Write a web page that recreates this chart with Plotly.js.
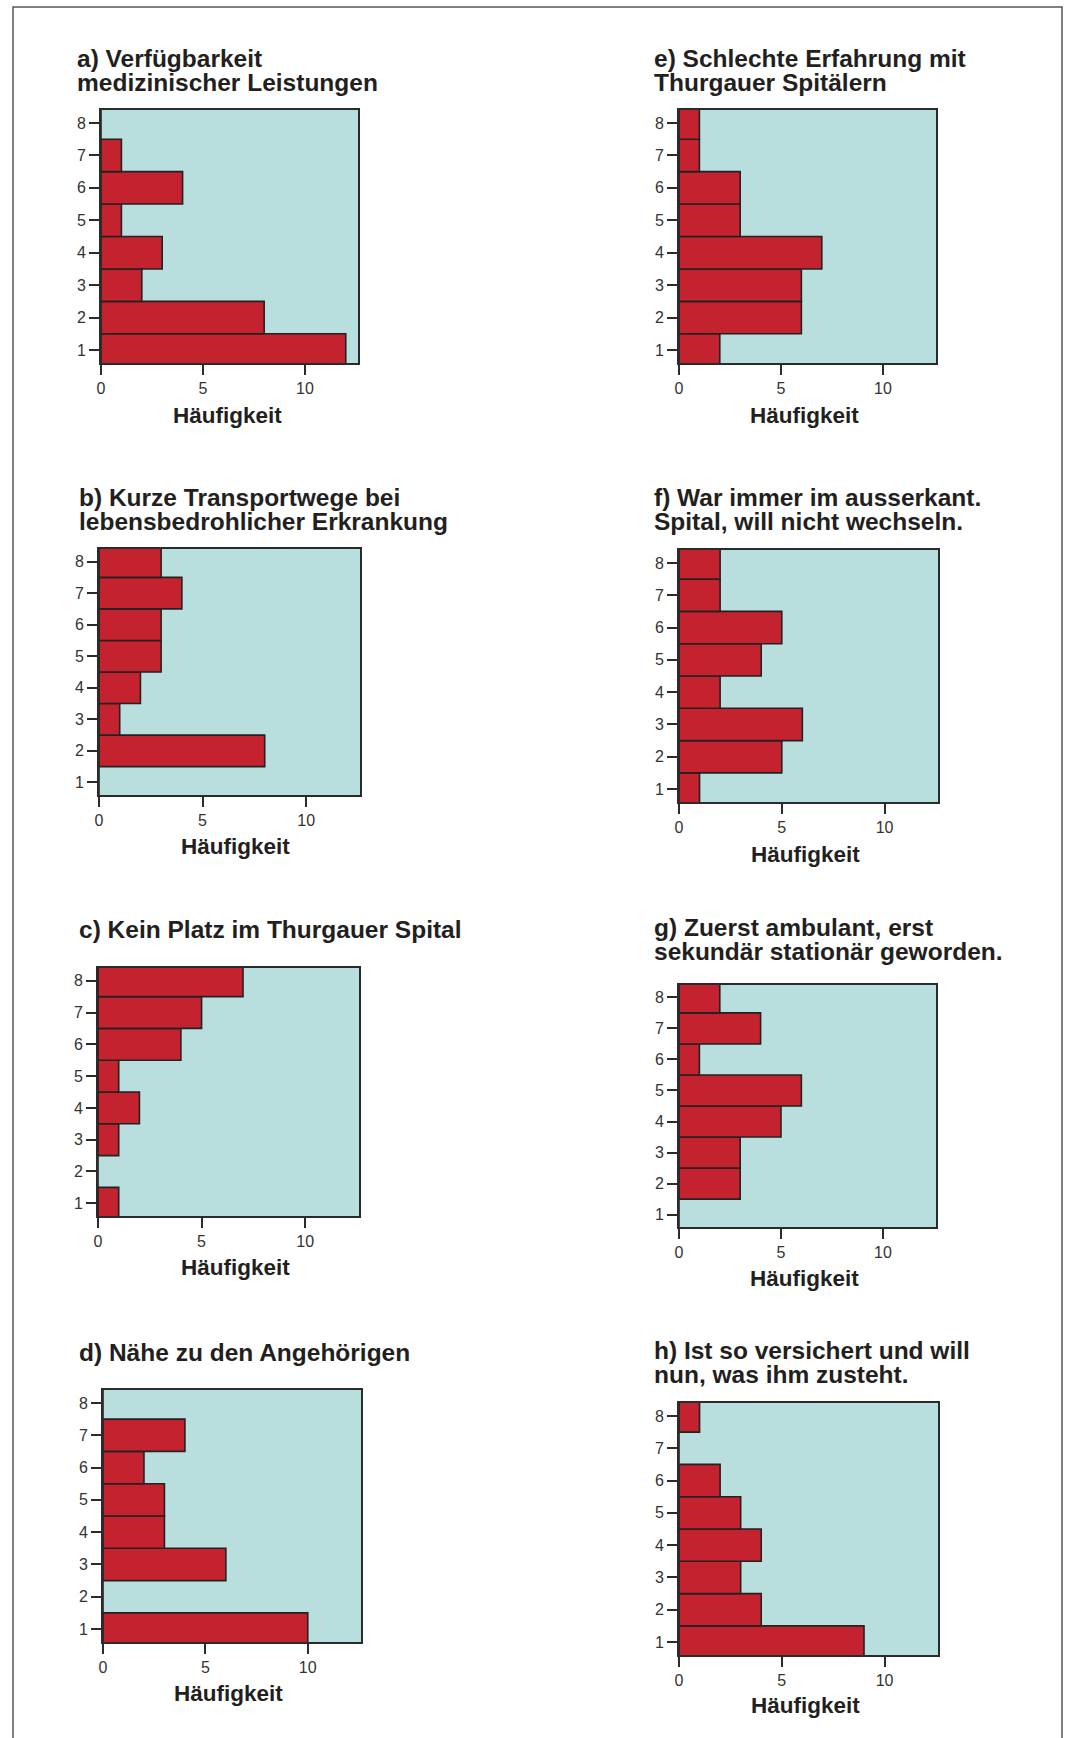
<!DOCTYPE html>
<html>
<head>
<meta charset="utf-8">
<script src="https://cdn.plot.ly/plotly-3.0.1.min.js"></script>
<style>
  html, body { margin: 0; padding: 0; background: #ffffff; }
  #chart { width: 1067px; height: 1738px; }
</style>
</head>
<body>
<div id="chart"></div>
<script>
// ---------- DATA ----------
const categories = [1, 2, 3, 4, 5, 6, 7, 8];
const xTickValues = [0, 5, 10];
const axisTitle = "Häufigkeit";

const valuesA = [12, 8, 2, 3, 1, 4, 1, 0];
const valuesB = [0, 8, 1, 2, 3, 3, 4, 3];
const valuesC = [1, 0, 1, 2, 1, 4, 5, 7];
const valuesD = [10, 0, 6, 3, 3, 2, 4, 0];
const valuesE = [2, 6, 6, 7, 3, 3, 1, 1];
const valuesF = [1, 5, 6, 2, 4, 5, 2, 2];
const valuesG = [0, 3, 3, 5, 6, 1, 4, 2];
const valuesH = [9, 4, 3, 4, 3, 2, 0, 1];

const titleA = ["a) Verfügbarkeit", "medizinischer Leistungen"];
const titleB = ["b) Kurze Transportwege bei", "lebensbedrohlicher Erkrankung"];
const titleC = ["c) Kein Platz im Thurgauer Spital"];
const titleD = ["d) Nähe zu den Angehörigen"];
const titleE = ["e) Schlechte Erfahrung mit", "Thurgauer Spitälern"];
const titleF = ["f) War immer im ausserkant.", "Spital, will nicht wechseln."];
const titleG = ["g) Zuerst ambulant, erst", "sekundär stationär geworden."];
const titleH = ["h) Ist so versichert und will", "nun, was ihm zusteht."];

// ---------- LAYOUT (pixel boxes) ----------
const W = 1067, H = 1738;
const panels = [
  { values: valuesA, title: titleA, box: [101, 110, 358, 363], tx: 75,  tb: 66,   ax: [227, 415] },
  { values: valuesB, title: titleB, box: [99, 549, 360, 795],  tx: 77,  tb: 505,  ax: [235, 847] },
  { values: valuesC, title: titleC, box: [98, 968, 359, 1216], tx: 77,  tb: 937,  ax: [235, 1267] },
  { values: valuesD, title: titleD, box: [103, 1390, 361, 1642], tx: 77, tb: 1360, ax: [228, 1693] },
  { values: valuesE, title: titleE, box: [679, 110, 936, 363], tx: 652, tb: 66,   ax: [804, 415] },
  { values: valuesF, title: titleF, box: [679, 550, 938, 802], tx: 652, tb: 505,  ax: [805, 854] },
  { values: valuesG, title: titleG, box: [679, 985, 936, 1227], tx: 652, tb: 935, ax: [804, 1278] },
  { values: valuesH, title: titleH, box: [679, 1403, 938, 1655], tx: 652, tb: 1358, ax: [805, 1705] }
];

const px = x => x / W;
const py = y => 1 - y / H;

const barColor = "rgb(196,34,46)";
const bgColor = "rgb(185,222,222)";
const lineColor = "#2b2b2b";
const fontFamily = "'Liberation Sans', Arial, Helvetica, sans-serif";
const titleSize = 24.5;
const titleLeading = 24;           // px between baselines
const baseSize = titleLeading / 1.3; // plotly line spacing is 1.3em of base size

const traces = [];
const layout = {
  width: W, height: H,
  margin: { l: 0, r: 0, t: 0, b: 0 },
  paper_bgcolor: "#ffffff",
  plot_bgcolor: bgColor,
  showlegend: false,
  font: { family: fontFamily, color: "#333333", size: 16 },
  annotations: [],
  shapes: [{
    type: "rect", xref: "paper", yref: "paper",
    x0: px(13), x1: px(1062), y0: py(7), y1: py(1760),
    line: { color: "#555555", width: 1.5 }, fillcolor: "rgba(0,0,0,0)", layer: "below"
  }]
};

panels.forEach((p, i) => {
  const n = i === 0 ? "" : String(i + 1);
  traces.push({
    type: "bar",
    orientation: "h",
    x: p.values,
    y: categories,
    width: 1,
    xaxis: "x" + n,
    yaxis: "y" + n,
    marker: { color: barColor, line: { color: "#222222", width: 1.6 } },
    hoverinfo: "x+y"
  });
  const [x0, y0, x1, y1] = p.box;
  layout["xaxis" + n] = {
    domain: [px(x0), px(x1)],
    anchor: "y" + n,
    range: [0, 12.6],
    tickvals: xTickValues,
    ticks: "outside", ticklen: 10, tickwidth: 2, tickcolor: lineColor,
    showline: true, mirror: true, linecolor: lineColor, linewidth: 2,
    showgrid: false, zeroline: false, fixedrange: true,
    tickfont: { family: fontFamily, size: 16, color: "#333333" }
  };
  layout["yaxis" + n] = {
    domain: [py(y1), py(y0)],
    anchor: "x" + n,
    range: [0.6, 8.4],
    tickvals: categories,
    ticks: "outside", ticklen: 10, tickwidth: 2, tickcolor: lineColor,
    showline: true, mirror: true, linecolor: lineColor, linewidth: 2,
    showgrid: false, zeroline: false, fixedrange: true,
    tickfont: { family: fontFamily, size: 16, color: "#333333" }
  };
  const text = p.title
    .map(line => '<b><span style="font-size:' + titleSize + 'px">' + line + '</span></b>')
    .join("<br>");
  layout.annotations.push({
    xref: "paper", yref: "paper",
    x: px(p.tx), y: py(p.tb - 23),
    xanchor: "left", yanchor: "top", align: "left",
    showarrow: false, text: text,
    font: { family: fontFamily, size: baseSize, color: "#231f20" }
  });
  layout.annotations.push({
    xref: "paper", yref: "paper",
    x: px(p.ax[0]), y: py(p.ax[1]),
    xanchor: "center", yanchor: "middle",
    showarrow: false, text: "<b>" + axisTitle + "</b>",
    font: { family: fontFamily, size: 22.5, color: "#231f20" }
  });
});

Plotly.newPlot("chart", traces, layout, { displayModeBar: false, responsive: false });
</script>
</body>
</html>
